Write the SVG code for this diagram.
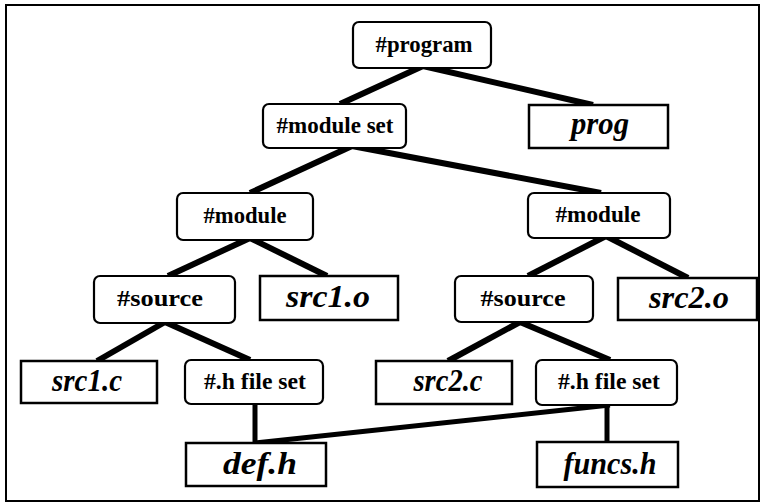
<svg xmlns="http://www.w3.org/2000/svg" width="763" height="504" viewBox="0 0 763 504">
<style>
.frame{fill:none;stroke:#000;stroke-width:2}
.edge{stroke:#000;stroke-width:6;stroke-linecap:butt;fill:none}
.rnd{fill:#fff;stroke:#000;stroke-width:2.2}
.sq{fill:#fff;stroke:#000;stroke-width:2.5}
.kw{font-family:"Liberation Serif","Times New Roman",serif;font-weight:bold;font-size:23px;text-anchor:middle;fill:#000}
.it{font-family:"Liberation Serif","Times New Roman",serif;font-weight:bold;font-style:italic;font-size:31px;text-anchor:middle;fill:#000}
</style>
<rect x="0" y="0" width="763" height="504" fill="#fff"/>
<rect class="frame" x="6" y="5" width="753" height="496"/>
<g id="connectors">
<line class="edge" x1="423" y1="66" x2="340" y2="104"/>
<line class="edge" x1="423" y1="66" x2="593" y2="105"/>
<line class="edge" x1="352" y1="146" x2="250" y2="193"/>
<line class="edge" x1="352" y1="146" x2="601" y2="193"/>
<line class="edge" x1="250" y1="238" x2="168" y2="276"/>
<line class="edge" x1="250" y1="238" x2="327" y2="276"/>
<line class="edge" x1="606" y1="236" x2="528" y2="276"/>
<line class="edge" x1="606" y1="236" x2="688" y2="278"/>
<line class="edge" x1="165" y1="322" x2="97" y2="361"/>
<line class="edge" x1="165" y1="322" x2="250" y2="360"/>
<line class="edge" x1="520" y1="322" x2="448" y2="361"/>
<line class="edge" x1="520" y1="322" x2="610" y2="360"/>
<line class="edge" x1="255" y1="404" x2="255" y2="443" style="stroke-width:5"/>
<line class="edge" x1="610" y1="405" x2="255" y2="443" style="stroke-width:5"/>
<line class="edge" x1="607" y1="405" x2="607" y2="442" style="stroke-width:5"/>
</g>
<g id="program"><rect class="rnd" x="353" y="22" width="138" height="46" rx="6"/><text class="kw" x="424" y="52" textLength="97" lengthAdjust="spacingAndGlyphs">#program</text></g>
<g id="prog"><rect class="sq" x="529" y="105" width="139" height="43"/><text class="it" x="600" y="134" textLength="58" lengthAdjust="spacingAndGlyphs">prog</text></g>
<g id="moduleset"><rect class="rnd" x="263" y="104" width="143" height="44" rx="6"/><text class="kw" x="335" y="133" textLength="117" lengthAdjust="spacingAndGlyphs">#module set</text></g>
<g id="module1"><rect class="rnd" x="177" y="193" width="136" height="47" rx="6"/><text class="kw" x="245" y="223" textLength="83" lengthAdjust="spacingAndGlyphs">#module</text></g>
<g id="module2"><rect class="rnd" x="528" y="193" width="142" height="45" rx="6"/><text class="kw" x="598" y="222" textLength="85" lengthAdjust="spacingAndGlyphs">#module</text></g>
<g id="source1"><rect class="rnd" x="94" y="276" width="141" height="47" rx="6"/><text class="kw" x="160" y="306" textLength="86" lengthAdjust="spacingAndGlyphs">#source</text></g>
<g id="src1o"><rect class="sq" x="260" y="276" width="138" height="44"/><text class="it" x="328" y="307" textLength="84" lengthAdjust="spacingAndGlyphs">src1.o</text></g>
<g id="source2"><rect class="rnd" x="455" y="276" width="138" height="46" rx="6"/><text class="kw" x="523" y="306" textLength="85" lengthAdjust="spacingAndGlyphs">#source</text></g>
<g id="src2o"><rect class="sq" x="618" y="278" width="139" height="42"/><text class="it" x="689" y="308" textLength="80" lengthAdjust="spacingAndGlyphs">src2.o</text></g>
<g id="src1c"><rect class="sq" x="21" y="361" width="136" height="42"/><text class="it" x="87" y="391" textLength="70" lengthAdjust="spacingAndGlyphs">src1.c</text></g>
<g id="hfileset1"><rect class="rnd" x="185" y="360" width="138" height="44" rx="6"/><text class="kw" x="255" y="389" textLength="102" lengthAdjust="spacingAndGlyphs">#.h file set</text></g>
<g id="src2c"><rect class="sq" x="376" y="361" width="136" height="43"/><text class="it" x="448" y="391" textLength="69" lengthAdjust="spacingAndGlyphs">src2.c</text></g>
<g id="hfileset2"><rect class="rnd" x="536" y="360" width="141" height="45" rx="6"/><text class="kw" x="609" y="389" textLength="102" lengthAdjust="spacingAndGlyphs">#.h file set</text></g>
<g id="defh"><rect class="sq" x="186" y="443" width="140" height="43"/><text class="it" x="260" y="474" textLength="74" lengthAdjust="spacingAndGlyphs">def.h</text></g>
<g id="funcsh"><rect class="sq" x="537" y="442" width="141" height="45"/><text class="it" x="610" y="474" textLength="93" lengthAdjust="spacingAndGlyphs">funcs.h</text></g>
</svg>
